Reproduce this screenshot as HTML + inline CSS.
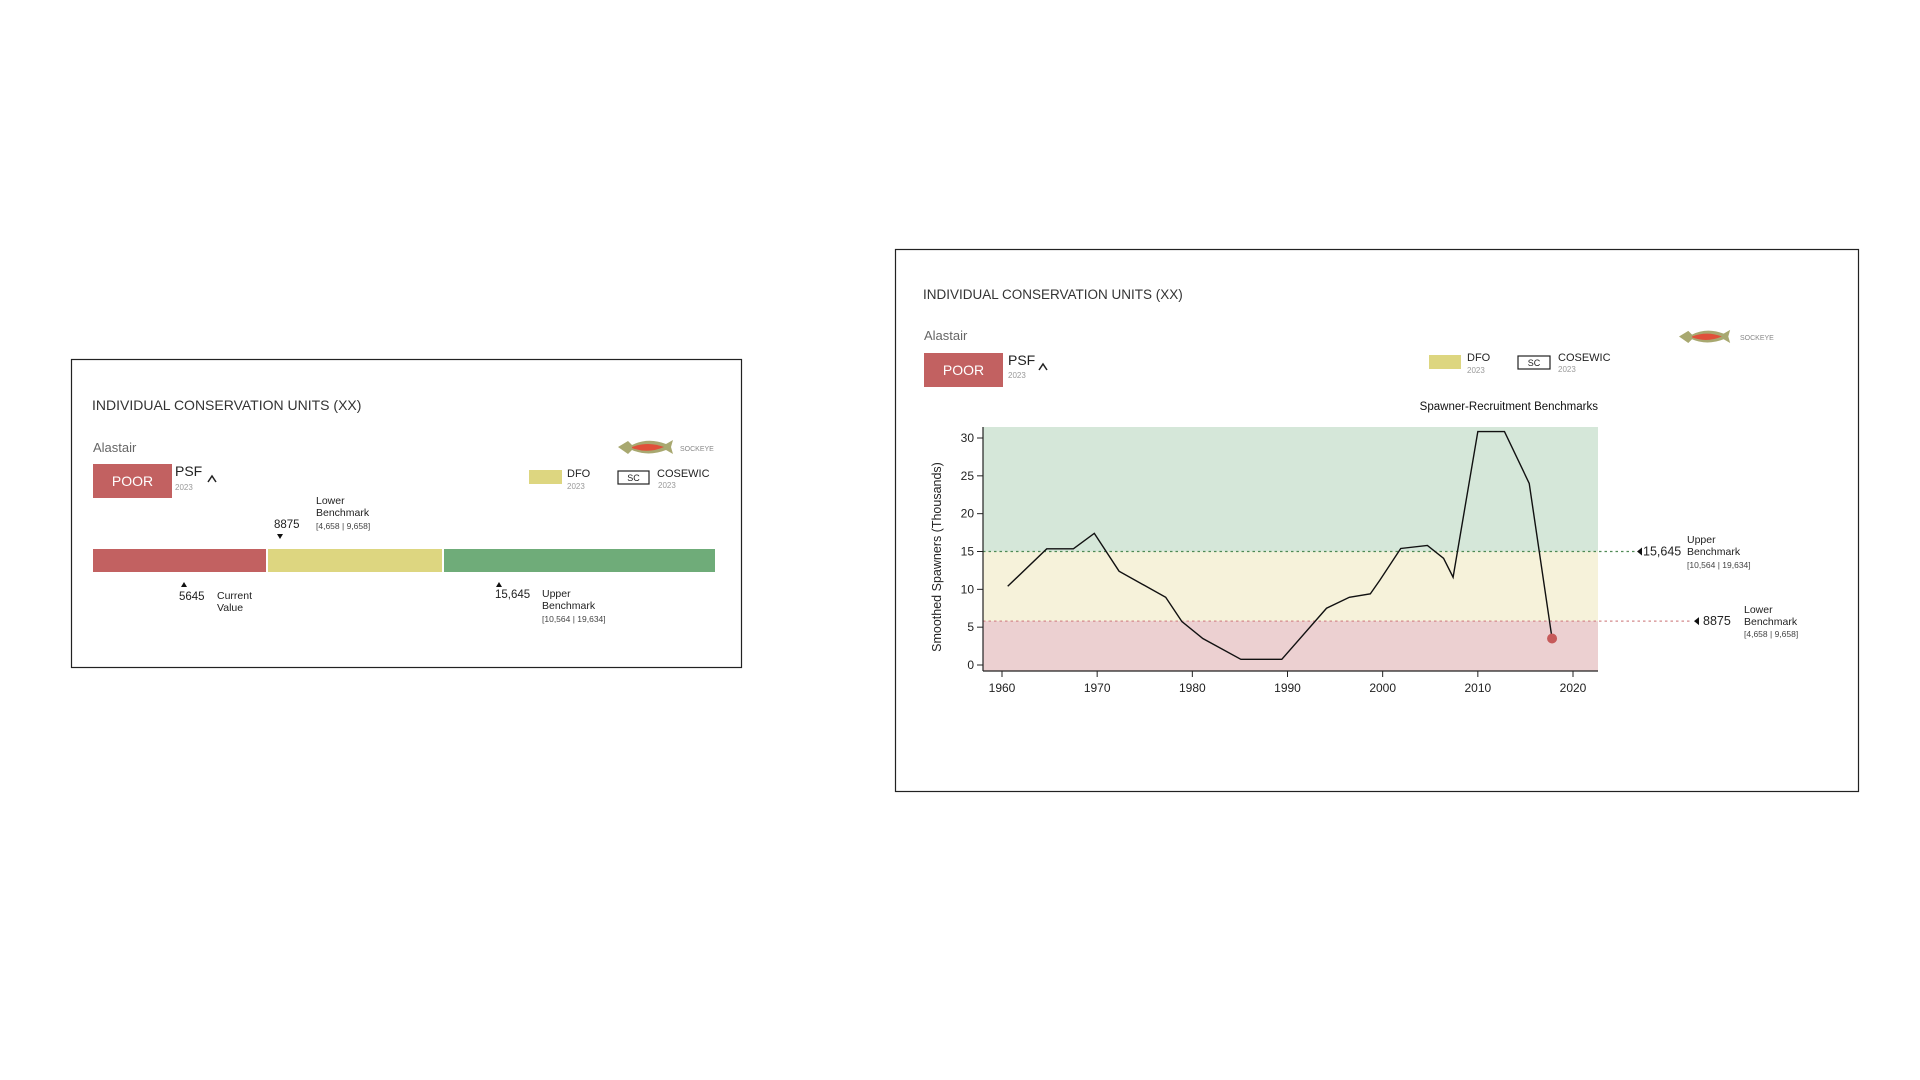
<!DOCTYPE html>
<html><head><meta charset="utf-8"><style>
html,body{margin:0;padding:0;background:#fff;width:1920px;height:1080px;overflow:hidden}
svg{display:block;font-family:"Liberation Sans",sans-serif}
</style></head><body>
<svg id="page" width="1920" height="1080" viewBox="0 0 1920 1080">
<defs>
<g id="fish">
<path d="M0,8 L10,2 L14,6 Q30,-2 48,5 L55,1 L53,8 L55,15 L48,11 Q30,18 14,11 L10,15 Z" fill="#a8a870"/>
<path d="M14,8 Q30,2 46,8 Q30,15 14,9 Z" fill="#e0503a"/>
</g>
</defs>

<!-- LEFT PANEL -->
<g>
<rect x="71.5" y="359.5" width="670" height="308" fill="#fff" stroke="#222" stroke-width="1.2"/>
<text x="92" y="410" font-size="14" fill="#333">INDIVIDUAL CONSERVATION UNITS (XX)</text>
<text x="93" y="452" font-size="13" fill="#666">Alastair</text>
<g>
<rect x="93" y="464" width="79" height="34" fill="#c26161"/>
<text x="132.5" y="486" font-size="14" fill="#fff" text-anchor="middle">POOR</text>
</g>
<text x="175" y="476" font-size="14" fill="#222">PSF</text>
<text x="175" y="490" font-size="8" fill="#999">2023</text>
<path d="M208,482 L212,476 L216,482" fill="none" stroke="#222" stroke-width="1.5"/>
<use href="#fish" x="618" y="439"/>
<text x="680" y="451" font-size="7" fill="#888">SOCKEYE</text>
<rect x="529" y="470" width="33" height="14" fill="#ddd680"/>
<text x="567" y="477" font-size="11" fill="#222">DFO</text>
<text x="567" y="489" font-size="8" fill="#999">2023</text>
<rect x="618" y="471" width="31" height="13" fill="#fff" stroke="#222" stroke-width="1.2"/>
<text x="633.5" y="481" font-size="9" fill="#222" text-anchor="middle">SC</text>
<text x="657" y="477" font-size="11" fill="#222">COSEWIC</text>
<text x="658" y="488" font-size="8" fill="#999">2023</text>
<rect x="93" y="549" width="173" height="23" fill="#c26161"/>
<rect x="268" y="549" width="174" height="23" fill="#ddd680"/>
<rect x="444" y="549" width="271" height="23" fill="#6fac79"/>
<path d="M181,587 L184,582 L187,587 Z" fill="#111"/>
<text x="179" y="600" font-size="11.5" fill="#222">5645</text>
<text x="217" y="599" font-size="10.5" fill="#222">Current</text>
<text x="217" y="611" font-size="10.5" fill="#222">Value</text>
<text x="274" y="528" font-size="11.5" fill="#222">8875</text>
<path d="M277,534 L280,539 L283,534 Z" fill="#111"/>
<text x="316" y="504" font-size="10.5" fill="#222">Lower</text>
<text x="316" y="516" font-size="10.5" fill="#222">Benchmark</text>
<text x="316" y="529" font-size="8.5" fill="#444">[4,658 | 9,658]</text>
<path d="M496,587 L499,582 L502,587 Z" fill="#111"/>
<text x="495" y="598" font-size="11.5" fill="#222">15,645</text>
<text x="542" y="597" font-size="10.5" fill="#222">Upper</text>
<text x="542" y="609" font-size="10.5" fill="#222">Benchmark</text>
<text x="542" y="622" font-size="8.5" fill="#444">[10,564 | 19,634]</text>
</g>

<!-- RIGHT PANEL -->
<g>
<rect x="895.5" y="249.5" width="963" height="542" fill="#fff" stroke="#222" stroke-width="1.2"/>
<text x="923" y="299" font-size="13.5" fill="#333">INDIVIDUAL CONSERVATION UNITS (XX)</text>
<text x="924" y="340" font-size="13" fill="#666">Alastair</text>
<g>
<rect x="924" y="353" width="79" height="34" fill="#c26161"/>
<text x="963.5" y="375" font-size="14" fill="#fff" text-anchor="middle">POOR</text>
</g>
<text x="1008" y="365" font-size="14" fill="#222">PSF</text>
<text x="1008" y="378" font-size="8" fill="#999">2023</text>
<path d="M1039,370 L1043,364 L1047,370" fill="none" stroke="#222" stroke-width="1.5"/>
<rect x="1429" y="355" width="32" height="14" fill="#ddd680"/>
<text x="1467" y="361" font-size="11" fill="#222">DFO</text>
<text x="1467" y="373" font-size="8" fill="#999">2023</text>
<rect x="1518" y="356" width="32" height="13" fill="#fff" stroke="#222" stroke-width="1.2"/>
<text x="1534" y="366" font-size="9" fill="#222" text-anchor="middle">SC</text>
<text x="1558" y="361" font-size="11" fill="#222">COSEWIC</text>
<text x="1558" y="372" font-size="8" fill="#999">2023</text>
<use href="#fish" transform="translate(1679,329) scale(0.93)"/>
<text x="1740" y="340" font-size="7" fill="#888">SOCKEYE</text>
<text x="1598" y="410" font-size="11.5" font-weight="500" fill="#111" text-anchor="end">Spawner-Recruitment Benchmarks</text>
<text transform="translate(941,557) rotate(-90)" font-size="12.5" fill="#222" text-anchor="middle">Smoothed Spawners (Thousands)</text>
<g id="chart"></g>
<text x="1687" y="543" font-size="10.5" fill="#222">Upper</text>
<text x="1687" y="555" font-size="10.5" fill="#222">Benchmark</text>
<text x="1687" y="568" font-size="8.5" fill="#444">[10,564 | 19,634]</text>
<text x="1744" y="613" font-size="10.5" fill="#222">Lower</text>
<text x="1744" y="625" font-size="10.5" fill="#222">Benchmark</text>
<text x="1744" y="637" font-size="8.5" fill="#444">[4,658 | 9,658]</text>
</g>
</svg>
<script>
const years=[1960.6,1964.7,1967.5,1969.7,1972.3,1977.2,1978.9,1981.1,1985.1,1989.4,1994.1,1996.5,1998.7,1999.7,2001.9,2004.7,2006.4,2007.4,2010.0,2012.8,2015.4,2017.8];
const spawners=[10.4,15.35,15.35,17.4,12.4,8.95,5.75,3.5,0.75,0.75,7.5,8.95,9.4,11.2,15.4,15.8,14.1,11.6,30.85,30.85,24,3.5];
const yTicks=[0,5,10,15,20,25,30];
const xTicks=[1960,1970,1980,1990,2000,2010,2020];
const upperBench=15.0;
const lowerBench=5.8;
const upperLabel="15,645";
const lowerLabel="8875";

const NS="http://www.w3.org/2000/svg";
const g=document.getElementById('chart');
const L=983,R=1598,T=427,B=671;
const yS=v=>665-v*(227/30);
const xS=y=>1002+(y-1960)*(571/60);
function mk(t,a){const e=document.createElementNS(NS,t);for(const k in a)e.setAttribute(k,a[k]);g.appendChild(e);return e;}
let e;
e=mk('rect',{x:L,y:T,width:R-L,height:yS(upperBench)-T,fill:'#d5e7d9'});


e=mk('rect',{x:L,y:yS(upperBench),width:R-L,height:yS(lowerBench)-yS(upperBench),fill:'#f6f2da'});


e=mk('rect',{x:L,y:yS(lowerBench),width:R-L,height:B-yS(lowerBench),fill:'#ecd0d1'});


e=mk('line',{x1:L,x2:1635,y1:yS(upperBench),y2:yS(upperBench),stroke:'#4f8a55','stroke-width':1.3,'stroke-dasharray':'2.5,3'});


e=mk('path',{d:`M1637,${yS(upperBench)} l5,-4 v8 z`,fill:'#111'});


e=mk('text',{x:1643,y:yS(upperBench)+4,'font-size':12.5,fill:'#222'});e.textContent=upperLabel;


e=mk('line',{x1:L,x2:1690,y1:yS(lowerBench),y2:yS(lowerBench),stroke:'#d38a8c','stroke-width':1.3,'stroke-dasharray':'2.5,3'});


e=mk('path',{d:`M1694,${yS(lowerBench)} l5,-4 v8 z`,fill:'#111'});


e=mk('text',{x:1703,y:yS(lowerBench)+4,'font-size':12.5,fill:'#222'});e.textContent=lowerLabel;


e=mk('line',{x1:L,x2:L,y1:T,y2:B,stroke:'#222','stroke-width':1.2});


e=mk('line',{x1:L,x2:R,y1:B,y2:B,stroke:'#222','stroke-width':1.2});


yTicks.forEach(v=>{
 const t=mk('line',{x1:L-6,x2:L,y1:yS(v),y2:yS(v),stroke:'#222'});
 
 
 const l=mk('text',{x:L-9,y:yS(v)+4,'font-size':12,fill:'#222','text-anchor':'end'});l.textContent=v;
 
 
});
xTicks.forEach(v=>{
 const t=mk('line',{x1:xS(v),x2:xS(v),y1:B,y2:B+6,stroke:'#222'});
 
 
 const l=mk('text',{x:xS(v),y:B+21,'font-size':12,fill:'#222','text-anchor':'middle'});l.textContent=v;
 
 
});
e=mk('polyline',{points:years.map((y,i)=>xS(y)+','+yS(spawners[i])).join(' '),fill:'none',stroke:'#111','stroke-width':1.4});


const n=years.length-1;
e=mk('circle',{cx:xS(years[n]),cy:yS(spawners[n]),r:5,fill:'#c65a5a'});


</script>
</body></html>
